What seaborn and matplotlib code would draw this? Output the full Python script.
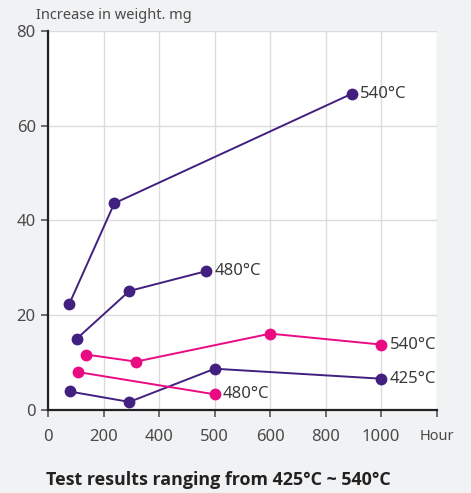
import numpy as np
import pandas as pd
import matplotlib
matplotlib.use('Agg')
import matplotlib.pyplot as plt
import seaborn as sns

# Tick values on the hour axis (not evenly spaced in the source chart)
HOUR_TICKS = [0, 200, 400, 500, 600, 800, 1000, 1200]
HOUR_LABELS = ['0', '200', '400', '500', '600', '800', '1000', 'Hour']
Y_TICKS = [0, 20, 40, 60, 80]

# Series (hours, mg)
purple_540_x = [75, 238, 894]
purple_540_y = [22.3, 43.6, 66.7]
purple_480_x = [102, 292, 485]
purple_480_y = [15.0, 25.1, 29.3]
purple_425_x = [77, 292, 500, 1000]
purple_425_y = [3.9, 1.7, 8.7, 6.6]
pink_540_x = [135, 316, 600, 1000]
pink_540_y = [11.7, 10.2, 16.1, 13.8]
pink_480_x = [107, 500]
pink_480_y = [8.0, 3.3]

PURPLE = '#41207f'
PINK = '#ea0a82'
BG = '#f1f2f4'

series = [
    (purple_540_x, purple_540_y, PURPLE, '540°C'),
    (purple_480_x, purple_480_y, PURPLE, '480°C'),
    (purple_425_x, purple_425_y, PURPLE, '425°C'),
    (pink_540_x, pink_540_y, PINK, '540°C'),
    (pink_480_x, pink_480_y, PINK, '480°C'),
]


def fwd(x):
    return np.interp(x, HOUR_TICKS, np.arange(len(HOUR_TICKS)))


def inv(p):
    return np.interp(p, np.arange(len(HOUR_TICKS)), HOUR_TICKS)


def main():
    sns.set_style('white')
    plt.rcParams['font.family'] = ['Noto Sans', 'DejaVu Sans']

    fig = plt.figure(figsize=(4.71, 4.93), dpi=100, facecolor=BG)
    ax = fig.add_axes([0.1026, 0.1684, 0.8245, 0.7693])
    ax.set_facecolor('white')

    for xs, ys, color, label in series:
        df = pd.DataFrame({'hour': xs, 'mg': ys})
        sns.lineplot(data=df, x='hour', y='mg', ax=ax, color=color,
                     marker='o', markersize=8.5, markeredgewidth=0,
                     linewidth=1.4, sort=False)
        ax.annotate(label, (xs[-1], ys[-1]), xytext=(6, 0),
                    textcoords='offset points', va='center', ha='left',
                    fontsize=12, color='#3a3a3a')

    ax.set_xscale('function', functions=(fwd, inv))
    ax.set_xlim(0, 1200)
    ax.set_ylim(0, 80)
    ax.set_xticks(HOUR_TICKS)
    ax.set_xticklabels(HOUR_LABELS)
    ax.set_yticks(Y_TICKS)
    ax.xaxis.set_minor_locator(matplotlib.ticker.NullLocator())
    ax.set_xlabel('')
    ax.set_ylabel('')

    ax.grid(True, color='#dcdcdc', linewidth=1)
    ax.set_axisbelow(True)
    for side in ['top', 'right']:
        ax.spines[side].set_visible(False)
    for side in ['left', 'bottom']:
        ax.spines[side].set_color('#222222')
        ax.spines[side].set_linewidth(1.6)

    ax.tick_params(axis='y', length=5, width=1.2, color='#555555',
                   labelsize=12, labelcolor='#4a4a4a', pad=4, left=True)
    ax.tick_params(axis='x', length=5, width=1.2, color='#555555',
                   labelsize=12, labelcolor='#4a4a4a', pad=9, bottom=True)
    ax.get_xticklabels()[-1].set_fontsize(10.5)

    fig.text(0.077, 0.968, 'Increase in weight. mg', fontsize=10.5,
             color='#4a4a4a', ha='left', va='center')
    fig.text(0.098, 0.027, 'Test results ranging from 425°C ~ 540°C',
             fontsize=12.9, fontweight='bold', family=['Open Sans', 'DejaVu Sans'],
             color='#222222', ha='left', va='center')

    fig.savefig('out.png', dpi=100, facecolor=BG)


if __name__ == "__main__":
    main()
